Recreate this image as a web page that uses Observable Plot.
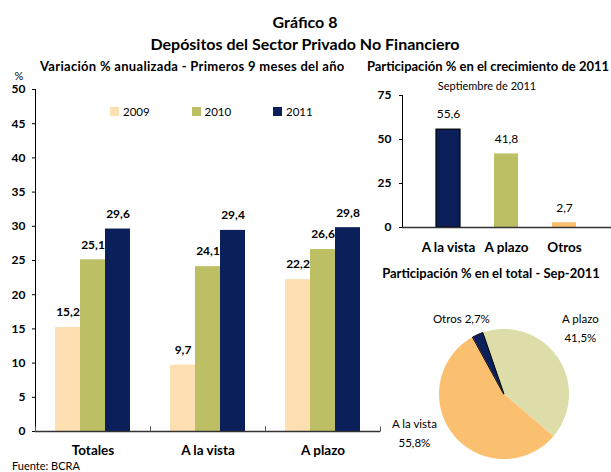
<!DOCTYPE html>
<html><head><meta charset="utf-8">
<script src="https://cdn.jsdelivr.net/npm/d3@7"></script>
<script src="https://cdn.jsdelivr.net/npm/@observablehq/plot@0.6"></script>
<style>
body{margin:0;background:#fff;}
#root{position:relative;width:611px;height:472px;overflow:hidden;font-family:Lato,"Open Sans",sans-serif;color:#000;}
.t{position:absolute;white-space:nowrap;line-height:1;}
.plot-box{position:absolute;}
.plot-box svg{overflow:visible;background:transparent;}
.plot-box g[aria-label^="fx-axis"] text,
.plot-box.bars g[aria-label^="x-axis"] text{font-size:13.5px;}
</style></head><body><div id="root"></div>
<script>
// ---- data: left chart ----
const categories = ["Totales", "A la vista", "A plazo"];
const years = ["2009", "2010", "2011"];
const values2009 = [15.2, 9.7, 22.2];
const values2010 = [25.1, 24.1, 26.6];
const values2011 = [29.6, 29.4, 29.8];
const yearColors = ["#FDDFB1", "#BDBF64", "#0B1F5B"];
const leftTicks = [0, 5, 10, 15, 20, 25, 30, 35, 40, 45, 50];

// ---- data: growth share ----
const growthCategories = ["A la vista", "A plazo", "Otros"];
const growthValues = [55.6, 41.8, 2.7];
const growthColors = ["#0B1F5B", "#BDBF64", "#F9BF6C"];
const growthTicks = [0, 25, 50, 75];

// ---- data: pie (clockwise order) ----
const shareCategories = ["A plazo", "A la vista", "Otros"];
const shareValues = [41.5, 55.8, 2.7];
const shareColors = ["#DCDDA8", "#FBC06F", "#0B1F5B"];
const shareLabels = ["A plazo\n41,5%", "A la vista\n55,8%", "Otros 2,7%"];

const FONT = 'Lato, "Open Sans", sans-serif';
const fmt = v => v.toFixed(1).replace(".", ",");
const root = document.getElementById("root");

function addText(txt, x, y, opts = {}) {
  const d = document.createElement("div");
  d.className = "t";
  d.textContent = txt;
  d.style.left = x + "px";
  d.style.top = y + "px";
  d.style.fontSize = (opts.size || 12) + "px";
  d.style.fontWeight = opts.bold ? "bold" : "normal";
  if (opts.spacing) d.style.letterSpacing = opts.spacing + "px";
  d.style.transform = opts.anchor === "start" ? "translateY(-50%)" : "translate(-50%,-50%)";
  if (opts.color) d.style.color = opts.color;
  root.appendChild(d);
  return d;
}
function addPlot(svg, x, y, cls) {
  const b = document.createElement("div");
  b.className = "plot-box" + (cls ? " " + cls : "");
  b.style.left = x + "px";
  b.style.top = y + "px";
  b.appendChild(svg);
  root.appendChild(b);
}

// titles
addText("Gráfico 8", 305, 22, {bold: true, size: 16});
addText("Depósitos del Sector Privado No Financiero", 305, 44, {bold: true, size: 16});
addText("Variación % anualizada - Primeros 9 meses del año", 40, 66, {bold: true, size: 13, spacing: 0.3, anchor: "start"});
addText("Participación % en el crecimiento de 2011", 488, 66, {bold: true, size: 13});
addText("%", 19, 75, {size: 11});
addText("Septiembre de 2011", 487, 85, {size: 11});
addText("Participación % en el total - Sep-2011", 491, 273, {bold: true, size: 13});
addText("Fuente: BCRA", 12, 465, {size: 11, anchor: "start"});

// ---- left chart ----
const seriesByYear = [values2009, values2010, values2011];
const leftData = categories.flatMap((c, i) => years.map((y, j) => ({category: c, year: y, value: seriesByYear[j][i]})));

const left = Plot.plot({
  width: 385, height: 385,
  marginLeft: 35, marginRight: 5, marginTop: 9, marginBottom: 34,
  style: {fontFamily: FONT, fontSize: "12px", fontWeight: "bold", background: "transparent", color: "#000"},
  facet: {data: leftData, x: "category"},
  fx: {domain: categories, padding: 0, label: null, tickSize: 0, tickPadding: 14, axis: "bottom"},
  x: {domain: years, paddingInner: 0, paddingOuter: 0.74, axis: null},
  y: {domain: [0, 50], ticks: leftTicks, tickSize: 3, tickPadding: 7, label: null, line: true},
  color: {domain: years, range: yearColors},
  marks: [
    Plot.barY(leftData, {x: "year", y: "value", fill: "year"}),
    Plot.ruleY([0], {stroke: "#333", strokeWidth: 1.3}),
    Plot.frame({insetTop: 337, stroke: "#555", strokeDasharray: "0 115 5 115 5 0"}),
    Plot.text(leftData, {x: "year", y: "value", text: d => fmt(d.value), dy: -15, fontWeight: "bold", fontSize: 12})
  ]
});
addPlot(left, 0, 80);

// legend
years.forEach((y, i) => {
  const x0 = 110 + i * 81.5;
  const sq = document.createElement("div");
  sq.style.cssText = `position:absolute;left:${x0}px;top:107px;width:9px;height:9px;background:${yearColors[i]};`;
  root.appendChild(sq);
  addText(y, x0 + 13, 112, {size: 11.5, anchor: "start"});
});

// ---- right top chart ----
const growthData = growthCategories.map((c, i) => ({category: c, value: growthValues[i]}));
const right = Plot.plot({
  width: 266, height: 180,
  marginLeft: 57, marginRight: 0, marginTop: 15, marginBottom: 33,
  style: {fontFamily: FONT, fontSize: "12px", fontWeight: "bold", background: "transparent", color: "#000"},
  x: {domain: growthCategories, padding: 0.584, tickSize: 0, tickPadding: 15, label: null},
  y: {domain: [0, 75], ticks: growthTicks, tickSize: 3, tickPadding: 8, label: null, line: true},
  color: {domain: growthCategories, range: growthColors},
  marks: [
    Plot.barY(growthData, {x: "category", y: "value", fill: "category"}),
    Plot.barY(growthData.filter(d => d.category === "A la vista"), {x: "category", y: "value", fill: "none", stroke: "#000", strokeWidth: 1.2}),
    Plot.ruleY([0], {stroke: "#333", strokeWidth: 1.3}),
    Plot.text(growthData, {x: "category", y: "value", text: d => fmt(d.value), dy: -15, fontWeight: "normal", fontSize: 12})
  ]
});
addPlot(right, 345, 80, "bars");

// ---- pie ----
const R = 65;
const pie = d3.pie().sort(null).value(d => d.value).startAngle(-19 * Math.PI / 180);
const arcs = pie(shareCategories.map((c, i) => ({category: c, value: shareValues[i], label: shareLabels[i]})));
const wedgeRows = [];
arcs.forEach(a => {
  const steps = Math.max(2, Math.ceil((a.endAngle - a.startAngle) / (0.5 * Math.PI / 180)));
  for (let k = 0; k <= steps; k++) {
    const t = a.startAngle + (a.endAngle - a.startAngle) * k / steps;
    wedgeRows.push({category: a.data.category, cx: 0, cy: 0, px: R * Math.sin(t), py: R * Math.cos(t)});
  }
});
const labelRows = arcs.map(a => {
  const m = (a.startAngle + a.endAngle) / 2;
  return {category: a.data.category, label: a.data.label, x: R * 1.45 * Math.sin(m), y: R * 1.45 * Math.cos(m)};
});
const labelShift = {"Otros": [-5, 9], "A plazo": [-2, -15], "A la vista": [-17, -23]};
const pieSvg = Plot.plot({
  width: 211, height: 172,
  margin: 0,
  style: {fontFamily: FONT, fontSize: "11.5px", background: "transparent", color: "#000"},
  x: {domain: [-104, 107], axis: null},
  y: {domain: [-78, 94], axis: null},
  color: {domain: shareCategories, range: shareColors},
  marks: [
    Plot.area(wedgeRows, {x1: "cx", y1: "cy", x2: "px", y2: "py", z: "category", fill: "category"}),
    Plot.area(wedgeRows.filter(d => d.category === "Otros"), {x1: "cx", y1: "cy", x2: "px", y2: "py", fill: "none", stroke: "#000", strokeWidth: 1}),
    ...shareCategories.map(c => Plot.text(labelRows.filter(d => d.category === c), {
      x: "x", y: "y", text: "label", lineHeight: 1.65,
      dx: labelShift[c][0], dy: labelShift[c][1]
    }))
  ]
});
addPlot(pieSvg, 400, 300);
</script></body></html>
